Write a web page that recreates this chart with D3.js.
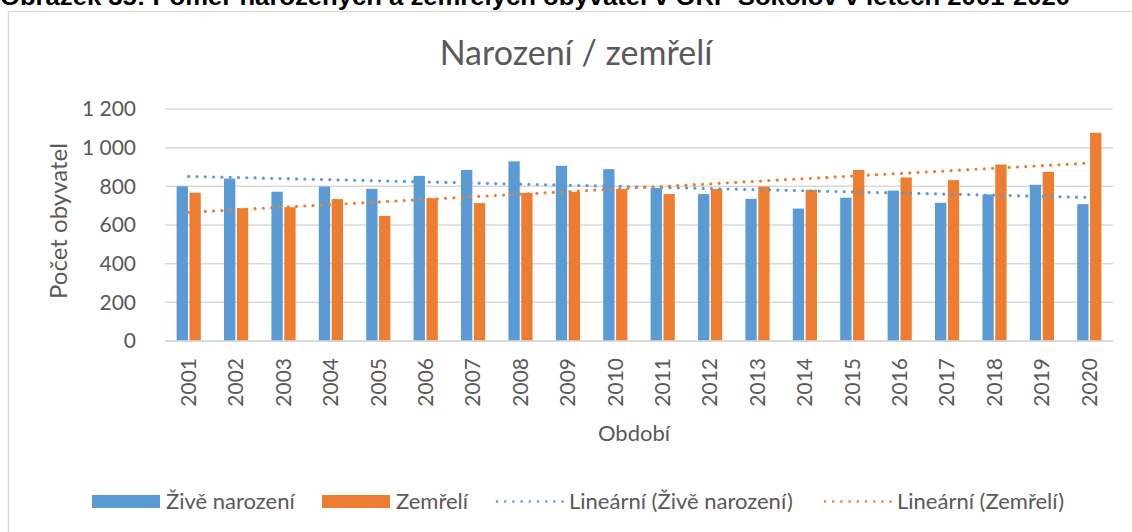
<!DOCTYPE html>
<html>
<head>
<meta charset="utf-8">
<script src="https://cdn.jsdelivr.net/npm/d3@7"></script>
<style>
  body { margin: 0; background: #fff; }
  text { font-family: Lato, "Open Sans", sans-serif; fill: #595959; }
</style>
</head>
<body>
<div id="chart"></div>
<script>
// data
var years = ["2001","2002","2003","2004","2005","2006","2007","2008","2009","2010",
             "2011","2012","2013","2014","2015","2016","2017","2018","2019","2020"];
var narozeni = [800, 840, 772, 799, 787, 854, 885, 929, 906, 889,
                791, 760, 735, 685, 741, 778, 715, 758, 808, 708];
var zemreli = [767, 687, 692, 734, 647, 739, 713, 766, 772, 786,
               760, 786, 799, 782, 885, 846, 832, 913, 875, 1077];
var yTicks = [0, 200, 400, 600, 800, 1000, 1200];
var seriesNames = ["Živě narození", "Zemřelí"];
var colors = ["#5b9bd5", "#ed7d31"];

var W = 1132, H = 532;
var margin = {top: 109, right: 19, bottom: 191, left: 165};
var width = W - margin.left - margin.right,
    height = H - margin.top - margin.bottom;

var svg = d3.select("#chart").append("svg")
    .attr("width", W)
    .attr("height", H);

// caption above the chart frame, cut off by the page edge like in the original
svg.append("text")
    .attr("x", 0)
    .attr("y", 5)
    .attr("textLength", 1070)
    .attr("lengthAdjust", "spacingAndGlyphs")
    .style("font-family", "'Liberation Sans', Arial, sans-serif")
    .style("font-weight", "bold")
    .style("font-size", "23px")
    .style("fill", "#000")
    .text("Obrázek 35: Poměr narozených a zemřelých obyvatel v ORP Sokolov v letech 2001-2020");

// chart frame
svg.append("rect")
    .attr("x", 8.5).attr("y", 11.5)
    .attr("width", 1140).attr("height", 540)
    .attr("fill", "none")
    .attr("stroke", "#d9d9d9")
    .attr("stroke-width", 1.3);

svg.append("text")
    .attr("x", 576).attr("y", 65)
    .attr("text-anchor", "middle")
    .style("font-size", "34px")
    .text("Narození / zemřelí");

var g = svg.append("g")
    .attr("transform", "translate(" + margin.left + "," + margin.top + ")");

var x = d3.scaleBand()
    .domain(years)
    .range([0, width])
    .paddingInner(0.49)
    .paddingOuter(0.245);

var xs = d3.scaleBand()
    .domain(seriesNames)
    .range([0, x.bandwidth()])
    .paddingInner(0.12);

var y = d3.scaleLinear()
    .domain([0, 1200])
    .range([height, 0]);

// gridlines
g.append("g")
    .selectAll("line")
    .data(yTicks)
    .enter().append("line")
    .attr("x1", 0).attr("x2", width)
    .attr("y1", function(d) { return y(d); })
    .attr("y2", function(d) { return y(d); })
    .attr("stroke", "#d9d9d9")
    .attr("stroke-width", 1.5);

// y axis labels
var yAxis = g.append("g")
    .call(d3.axisLeft(y).tickValues(yTicks)
        .tickSize(0).tickPadding(29)
        .tickFormat(function(d) { return d3.format(",")(d).replace(",", " "); }));
yAxis.select(".domain").remove();
yAxis.selectAll("text")
    .style("font-size", "21px")
    .style("fill", "#595959")
    .style("font-family", "Lato, 'Open Sans', sans-serif");

// x axis labels (rotated)
var xAxis = g.append("g")
    .attr("transform", "translate(0," + height + ")")
    .call(d3.axisBottom(x).tickSize(0));
xAxis.select(".domain").remove();
xAxis.selectAll("text")
    .attr("transform", "rotate(-90)")
    .attr("x", -17)
    .attr("y", 0)
    .attr("dy", "0.35em")
    .style("text-anchor", "end")
    .style("font-size", "21px")
    .style("fill", "#595959")
    .style("font-family", "Lato, 'Open Sans', sans-serif");

// bars
var data = [narozeni, zemreli];
data.forEach(function(vals, si) {
    g.append("g")
        .selectAll("rect")
        .data(vals)
        .enter().append("rect")
        .attr("x", function(d, i) { return x(years[i]) + xs(seriesNames[si]); })
        .attr("y", function(d) { return y(d); })
        .attr("width", xs.bandwidth())
        .attr("height", function(d) { return height - y(d); })
        .attr("fill", colors[si]);
});

// linear trendlines (least squares over the data)
function fit(vals) {
    var n = vals.length;
    var mx = d3.mean(vals, function(d, i) { return i; });
    var my = d3.mean(vals);
    var sxy = d3.sum(vals, function(d, i) { return (i - mx) * (d - my); });
    var sxx = d3.sum(vals, function(d, i) { return (i - mx) * (i - mx); });
    var b = sxy / sxx, a = my - b * mx;
    return [[0, a], [n - 1, a + b * (n - 1)]];
}

var line = d3.line()
    .x(function(d) { return x(years[d[0]]) + x.bandwidth() / 2; })
    .y(function(d) { return y(d[1]); });

data.forEach(function(vals, si) {
    g.append("path")
        .datum(fit(vals))
        .attr("d", line)
        .attr("fill", "none")
        .attr("stroke", colors[si])
        .attr("stroke-width", 3.2)
        .attr("stroke-linecap", "round")
        .attr("stroke-dasharray", "0 8.3");
});

// baseline
g.append("line")
    .attr("x1", 0).attr("x2", width)
    .attr("y1", height).attr("y2", height)
    .attr("stroke", "#d9d9d9")
    .attr("stroke-width", 1.5);

// axis titles
svg.append("text")
    .attr("transform", "translate(67," + (margin.top + height / 2 - 4) + ") rotate(-90)")
    .attr("text-anchor", "middle")
    .style("font-size", "24px")
    .text("Počet obyvatel");

svg.append("text")
    .attr("x", margin.left + width / 2 - 5)
    .attr("y", 441)
    .attr("text-anchor", "middle")
    .style("font-size", "22px")
    .text("Období");

// legend
var legendItems = [
    {label: "Živě narození", color: colors[0], type: "box", x: 92},
    {label: "Zemřelí", color: colors[1], type: "box", x: 322},
    {label: "Lineární (Živě narození)", color: colors[0], type: "dot", x: 495},
    {label: "Lineární (Zemřelí)", color: colors[1], type: "dot", x: 823}
];
var legend = svg.append("g");
legendItems.forEach(function(it) {
    if (it.type === "box") {
        legend.append("rect")
            .attr("x", it.x).attr("y", 495)
            .attr("width", 68).attr("height", 13)
            .attr("fill", it.color);
    } else {
        legend.append("line")
            .attr("x1", it.x + 2).attr("x2", it.x + 68)
            .attr("y1", 501.5).attr("y2", 501.5)
            .attr("stroke", it.color)
            .attr("stroke-width", 2.6)
            .attr("stroke-linecap", "round")
            .attr("stroke-dasharray", "0 8.2");
    }
    legend.append("text")
        .attr("x", it.x + 74)
        .attr("y", 509)
        .style("font-size", "22px")
        .text(it.label);
});
</script>
</body>
</html>
